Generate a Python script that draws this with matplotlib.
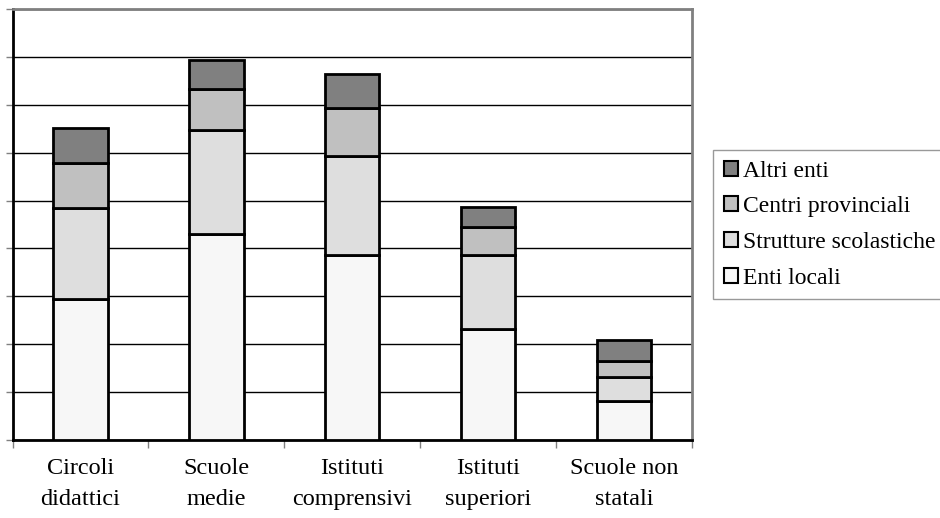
import matplotlib.pyplot as plt
import numpy as np
from matplotlib.patches import Patch

plt.rcParams['font.family'] = ['Liberation Serif', 'DejaVu Serif']

categorie = ["Circoli\ndidattici", "Scuole\nmedie", "Istituti\ncomprensivi",
             "Istituti\nsuperiori", "Scuole non\nstatali"]
enti_locali = [2.94, 4.31, 3.86, 2.31, 0.81]
strutture_scolastiche = [1.90, 2.16, 2.08, 1.56, 0.50]
centri_provinciali = [0.94, 0.85, 1.00, 0.58, 0.33]
altri_enti = [0.74, 0.61, 0.71, 0.41, 0.44]

serie = ["Enti locali", "Strutture scolastiche", "Centri provinciali", "Altri enti"]
colori = ["#f7f7f7", "#dedede", "#c0c0c0", "#808080"]

fig = plt.figure(figsize=(9.4, 5.18), dpi=100)
ax = fig.add_axes([0.0133, 0.1506, 0.7228, 0.832])

x = np.arange(len(categorie))
base = np.zeros(len(categorie))
for nome, vals, col in zip(serie, [enti_locali, strutture_scolastiche, centri_provinciali, altri_enti], colori):
    ax.bar(x, vals, bottom=base, width=0.4, color=col, edgecolor="black", linewidth=2, zorder=3)
    base += np.array(vals)

ax.set_xlim(-0.5, len(categorie) - 0.5)
ax.set_ylim(0, 9)
ax.set_yticks(np.arange(0, 10, 1))
ax.set_yticklabels([])
ax.yaxis.grid(True, color="black", linewidth=1, zorder=0)
ax.tick_params(axis="y", direction="out", length=5, width=1, color="#808080")

ax.set_xticks(x)
ax.set_xticklabels(categorie, fontsize=17.5, linespacing=1.6)
ax.set_xticks(np.arange(-0.5, len(categorie)), minor=True)
ax.tick_params(axis="x", which="major", length=0, pad=13)
ax.tick_params(axis="x", which="minor", direction="out", length=6, width=1, color="#808080")

for s in ["left", "bottom"]:
    ax.spines[s].set_color("black")
    ax.spines[s].set_linewidth(2)
for s in ["top", "right"]:
    ax.spines[s].set_color("#808080")
    ax.spines[s].set_linewidth(2)

handles = [Patch(facecolor=c, edgecolor="black", linewidth=1.5, label=n)
           for n, c in zip(serie, colori)][::-1]
leg = fig.legend(handles=handles, loc="upper left", bbox_to_anchor=(713 / 940, 1 - 150 / 518),
                 fontsize=17, frameon=True, fancybox=False, handlelength=0.6, handleheight=0.6,
                 handletextpad=0.2, borderpad=0.45, labelspacing=0.62, borderaxespad=0)
leg.get_frame().set_edgecolor("#808080")
leg.get_frame().set_linewidth(1)

fig.savefig("out.png", dpi=100)
